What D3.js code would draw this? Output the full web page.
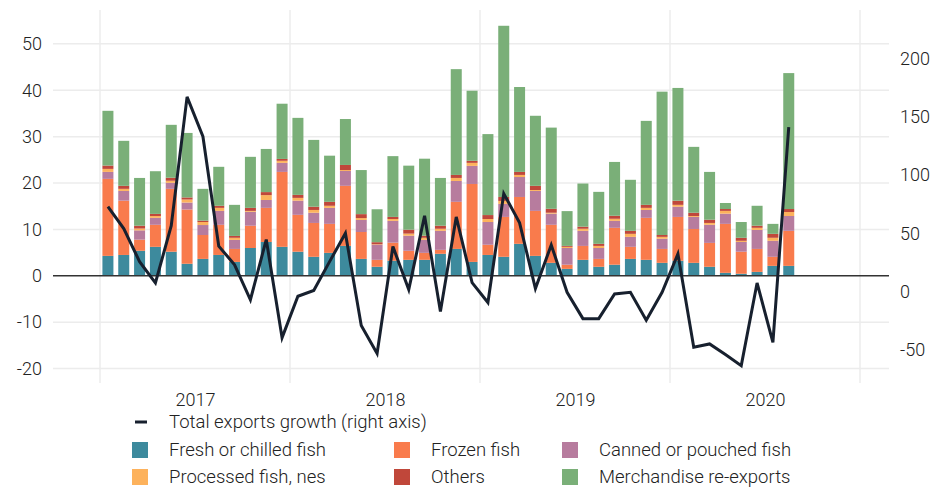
<!DOCTYPE html>
<html>
<head>
<meta charset="utf-8">
<script src="https://cdn.jsdelivr.net/npm/d3@7"></script>
<style>
  body { margin: 0; background: #fff; }
  text { font-family: Roboto, "Noto Sans", sans-serif; font-weight: 300; fill: #222; }
</style>
</head>
<body>
<div id="chart"></div>
<script>
// months Jan 2017 .. Aug 2020
var months = d3.timeMonths(new Date(2017, 0, 1), new Date(2020, 8, 1));
var yearLabels = ["2017", "2018", "2019", "2020"];
var leftTicks = [-20, -10, 0, 10, 20, 30, 40, 50];
var rightTicks = [-50, 0, 50, 100, 150, 200];

var seriesNames = ["Fresh or chilled fish", "Frozen fish", "Canned or pouched fish",
                   "Processed fish, nes", "Others", "Merchandise re-exports"];
var seriesColors = ["#3d8a9d", "#f97b4c", "#b77c9e", "#fdb25c", "#c0473a", "#7aaf78"];

var fresh = [4.3,4.5,5.4,6.25,5.2,2.6,3.65,4.5,3.0,6.0,7.3,6.25,
             5.2,4.1,4.95,6.45,3.65,1.95,3.25,3.45,3.45,4.75,5.8,3.0,
             4.5,4.1,6.9,4.3,2.8,1.5,3.45,1.95,2.4,3.65,3.45,2.8,
             3.25,2.8,1.95,0.65,0.45,0.85,2.15,2.15];
var frozen = [16.6,11.7,2.4,4.75,13.55,11.7,5.15,6.5,2.8,4.8,7.35,16.15,
              7.95,7.3,6.25,12.95,5.8,1.5,3.9,1.95,1.5,0.85,10.15,16.8,
              2.2,8.6,10.1,9.7,8.2,0.9,3.0,1.7,7.95,2.6,9.05,3.0,
              9.45,7.3,5.15,10.55,4.75,4.95,1.95,7.55];
var canned = [1.5,2.1,2.0,1.5,1.3,1.5,2.15,3.0,1.95,3.0,1.7,1.95,
              3.05,2.2,3.45,3.2,2.6,3.25,4.7,3.25,2.8,4.1,4.5,3.9,
              4.9,2.8,4.3,4.3,2.4,3.6,3.25,2.35,1.5,2.15,1.7,2.2,
              2.2,2.6,3.9,2.2,2.1,4.1,3.45,3.2];
var processed = [0.65,0.45,0.4,0.4,0.45,0.65,0.65,0.65,0.45,0.2,1.05,0.45,
                 0.6,0.6,0.45,0.2,0.4,0.1,0.4,0.45,0.45,0.45,0.65,0.65,
                 0.65,0.65,0.45,0.2,0.2,0.25,0.45,0.45,0.45,0.65,0.45,0.4,
                 0.4,0.2,0.4,0.6,0.25,0.45,0.65,0.85];
var others = [0.72,0.65,0.6,0.45,0.65,0.45,0.3,0.45,0.4,0.65,0.65,0.4,
              0.65,0.7,0.85,1.1,0.85,0.45,0.45,0.85,0.45,0.65,0.65,0.45,
              0.85,0.85,0.65,0.9,0.85,0.2,0.45,0.45,0.65,0.65,0.65,0.4,
              0.9,0.7,0.7,0.4,0.65,0.45,0.85,0.65];
var reexports = [11.8,9.7,10.3,9.2,11.4,13.9,6.85,8.4,6.7,11.0,9.3,11.9,
                 16.6,14.4,9.95,9.9,9.5,7.1,13.1,13.8,16.6,10.3,22.8,15.1,
                 17.45,36.9,18.3,15.1,17.5,7.5,9.3,11.2,11.6,11.0,18.1,30.9,
                 24.3,14.2,10.3,1.3,3.4,4.3,2.15,29.3];
// total exports growth, % (right axis)
var growth = [72.9,54,25.7,7.5,56.5,167,133,39,23,-7,44.6,-39.5,
              -4,1,25.7,50,-29,-53,38.6,1.7,65,-17,64,7.7,
              -9.4,84,59,2.6,40,-0.6,-23.2,-23.2,-2,-0.6,-24.6,-0.6,
              32.3,-47.7,-44.9,-54,-63.5,7.4,-43.5,141];

var W = 933, H = 489,
    plot = {left: 53, right: 889, top: 10, bottom: 383};

var svg = d3.select("#chart").append("svg")
    .attr("width", W).attr("height", H);

var series = [fresh, frozen, canned, processed, others, reexports];
var table = months.map(function(m, i) {
  var row = {month: m, idx: i};
  series.forEach(function(s, k) { row[seriesNames[k]] = s[i]; });
  return row;
});
var stacked = d3.stack().keys(seriesNames)(table);

// x in month units, 0 = Jan 2017
var x = d3.scaleLinear().domain([0, 48]).range([100, 860]);
var y = d3.scaleLinear().domain([-23.1, 57.3]).range([plot.bottom, plot.top]);
var y2 = d3.scaleLinear().domain([-78.4, 241.5]).range([plot.bottom, plot.top]);

// grid
svg.append("g").selectAll("line")
    .data([0, 12, 24, 36, 48]).enter().append("line")
    .attr("x1", function(d) { return x(d); }).attr("x2", function(d) { return x(d); })
    .attr("y1", plot.top).attr("y2", plot.bottom)
    .attr("stroke", "#ececec").attr("stroke-width", 1.5);

svg.append("g").selectAll("line")
    .data(leftTicks.filter(function(d) { return d !== 0; })).enter().append("line")
    .attr("x1", plot.left).attr("x2", plot.right)
    .attr("y1", function(d) { return y(d); }).attr("y2", function(d) { return y(d); })
    .attr("stroke", "#ececec").attr("stroke-width", 1.5);

// bars
var barW = 11;
svg.append("g").selectAll("g")
    .data(stacked).enter().append("g")
    .attr("fill", function(d, k) { return seriesColors[k]; })
  .selectAll("rect")
    .data(function(d) { return d; }).enter().append("rect")
    .attr("x", function(d) { return x(d.data.idx + 0.5) - barW / 2; })
    .attr("width", barW)
    .attr("y", function(d) { return y(d[1]); })
    .attr("height", function(d) { return y(d[0]) - y(d[1]); });

// zero line
svg.append("line")
    .attr("x1", plot.left).attr("x2", plot.right)
    .attr("y1", y(0)).attr("y2", y(0))
    .attr("stroke", "#333").attr("stroke-width", 1.5);

// growth line
var line = d3.line()
    .x(function(d, i) { return x(i + 0.5); })
    .y(function(d) { return y2(d); });

svg.append("path")
    .datum(growth)
    .attr("d", line)
    .attr("fill", "none")
    .attr("stroke", "#17202e")
    .attr("stroke-width", 3);

// axes (plain hyphen for negatives, like the original)
var fmt = function(d) { return String(d); };
var leftAxis = svg.append("g")
    .attr("transform", "translate(" + (plot.left - 11) + ",0)")
    .call(d3.axisLeft(y).tickValues(leftTicks).tickFormat(fmt).tickSize(0).tickPadding(0));
var rightAxis = svg.append("g")
    .attr("transform", "translate(" + (plot.right + 11) + ",0)")
    .call(d3.axisRight(y2).tickValues(rightTicks).tickFormat(fmt).tickSize(0).tickPadding(0));
var xAxis = svg.append("g")
    .attr("transform", "translate(0," + (plot.bottom + 2) + ")")
    .call(d3.axisBottom(x).tickValues([6, 18, 30, 42])
      .tickFormat(function(d, i) { return yearLabels[i]; })
      .tickSize(0).tickPadding(8));

[leftAxis, rightAxis, xAxis].forEach(function(a) {
  a.select(".domain").remove();
  a.selectAll("text")
    .style("font-size", "18px")
    .style("font-family", "Roboto, sans-serif")
    .style("font-weight", 300)
    .attr("fill", "#222");
});

// legend
var legend = svg.append("g").style("font-size", "18.5px");
var row1 = 422;
legend.append("line")
    .attr("x1", 135).attr("x2", 147).attr("y1", row1).attr("y2", row1)
    .attr("stroke", "#17202e").attr("stroke-width", 3);
legend.append("text")
    .attr("x", 169).attr("y", row1).attr("dy", "0.35em")
    .text("Total exports growth (right axis)");

var colX = [132, 394, 562], rowY = [450, 477];
seriesNames.forEach(function(name, k) {
  var cx = colX[k % 3], cy = rowY[Math.floor(k / 3)];
  legend.append("rect")
    .attr("x", cx).attr("y", cy - 8)
    .attr("width", 16).attr("height", 16)
    .attr("fill", seriesColors[k]);
  legend.append("text")
    .attr("x", cx + 37).attr("y", cy).attr("dy", "0.35em")
    .text(name);
});
</script>
</body>
</html>
